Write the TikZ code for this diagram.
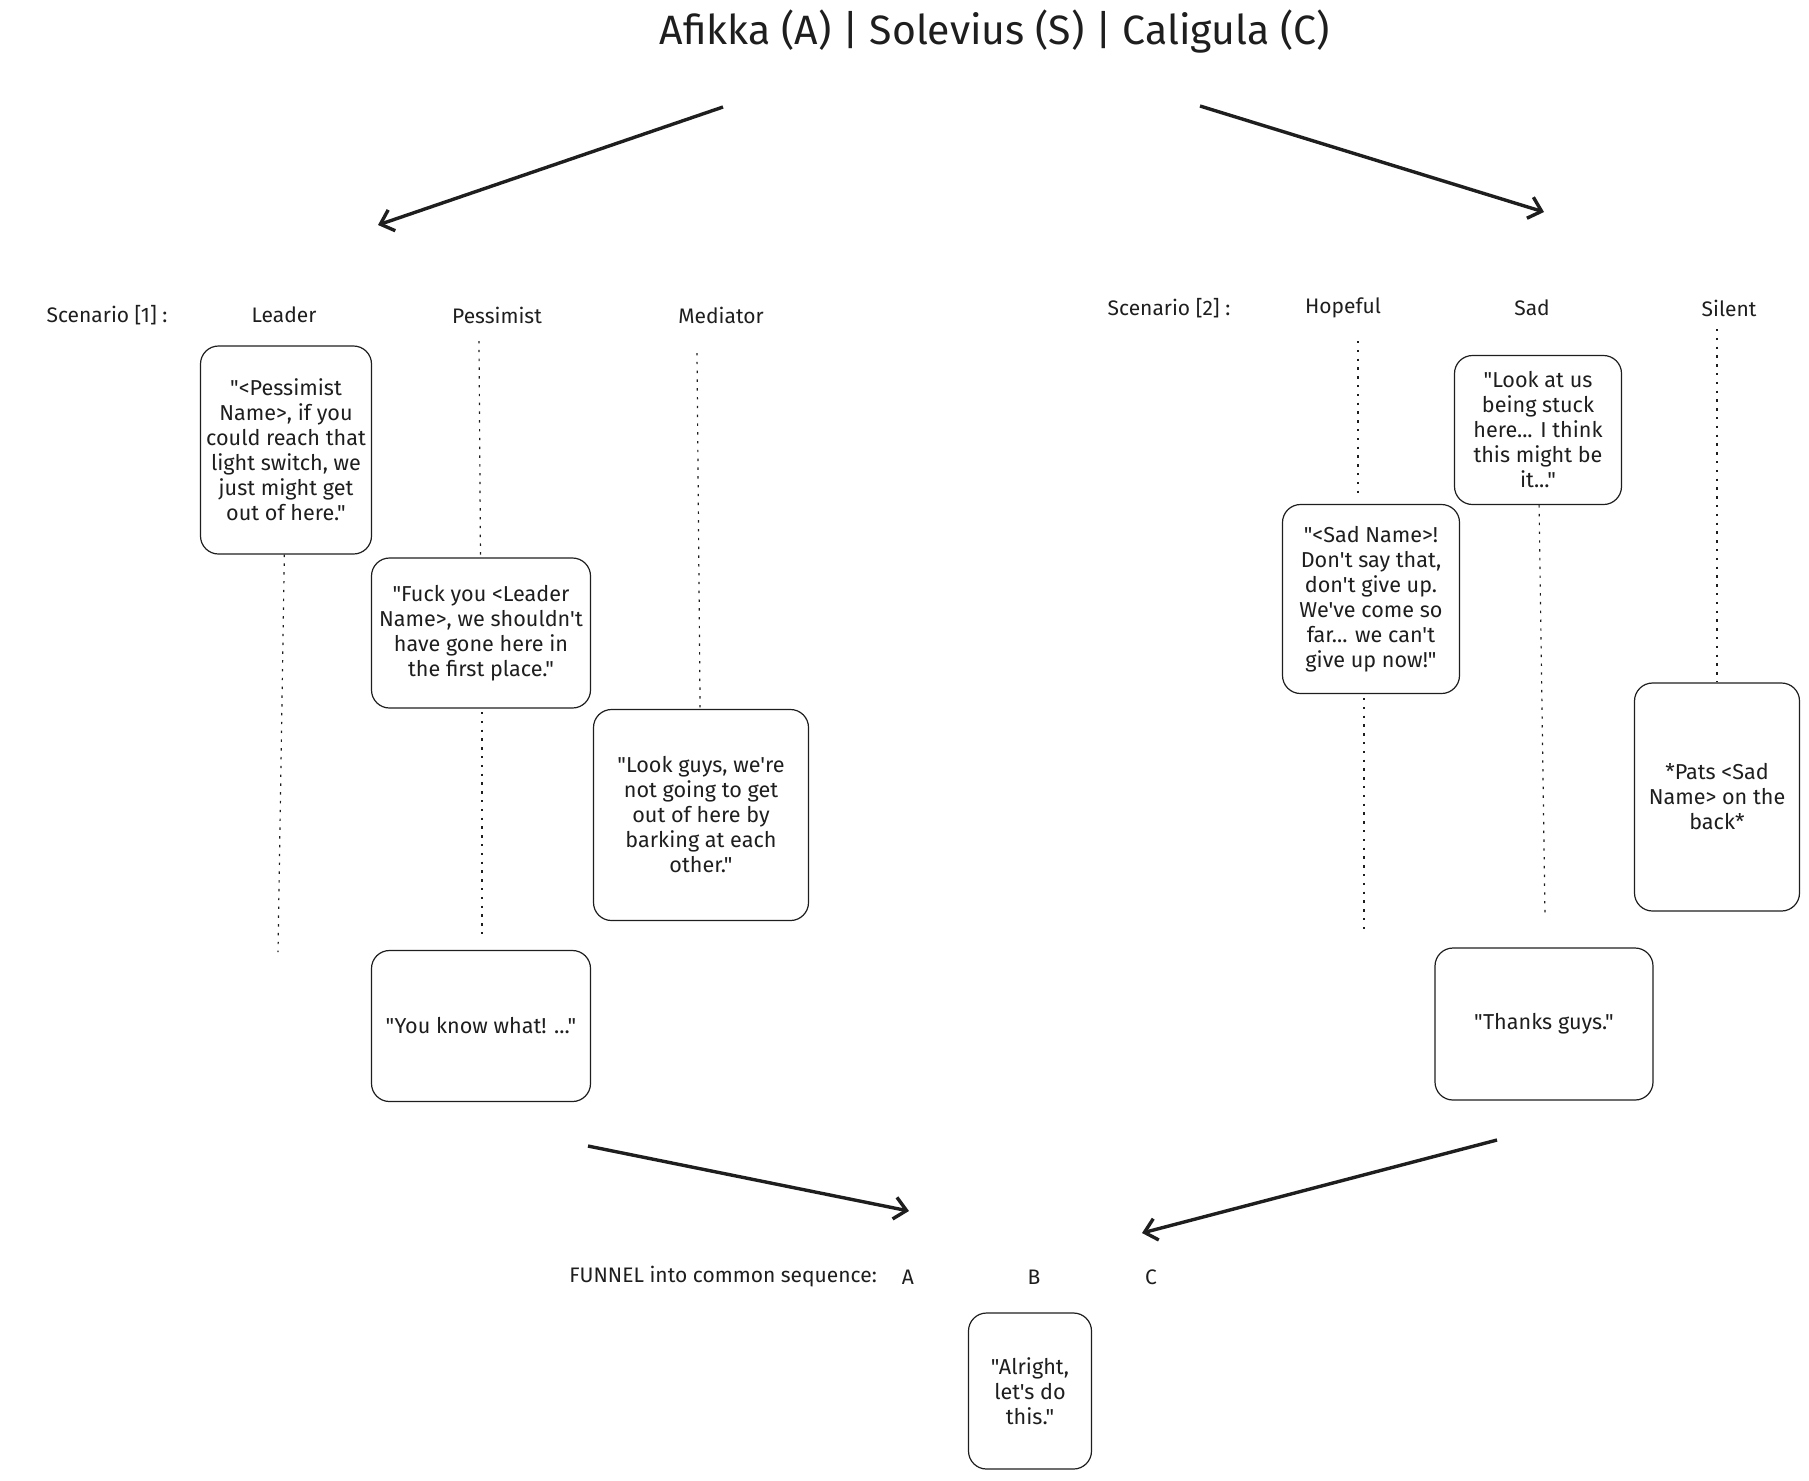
\documentclass[tikz,border=0pt]{standalone}
\usepackage{fontspec}
\setmainfont{Fira Sans}[Ligatures=TeXOff]
\usetikzlibrary{arrows.meta, positioning}
\definecolor{ink}{HTML}{1E1E1E}
\tikzset{%
  say/.style={draw=ink, text=ink, line width=0.6pt, rounded corners=9pt, align=center,
    inner sep=2pt, font=\fontsize{10.8}{12.5}\selectfont},
  role/.style={text=ink, font=\fontsize{10.5}{12}\selectfont},
  life/.style={ink, line width=0.6pt, dash pattern=on 1.2pt off 3.2pt},
  flow/.style={ink, line width=1.7pt, -{Straight Barb[length=6pt,width=11pt]}}
}

\begin{document}
\begin{tikzpicture}[x=0.5pt,y=-0.5pt]
  \useasboundingbox (0,0) rectangle (1809,1480);

  \node[text=ink, font=\fontsize{20.5}{24}\selectfont] (title) at (995,32) {Afikka (A) | Solevius (S) | Caligula (C)};

  % scenario 1
  \node[role] (sc1) at (107,315) {Scenario [1] :};
  \node[role] (leader) at (284,315) {Leader};
  \node[role] (pessimist) at (497,315) {Pessimist};
  \node[role] (mediator) at (721,315) {Mediator};

  \node[say, minimum width=85.5pt, minimum height=104pt] (lead) at (286,450)
    {"<Pessimist\\Name>, if you\\could reach that\\light switch, we\\just might get\\out of here."};
  \node[say, minimum width=109.5pt, minimum height=75pt] (pess1) at (481,633)
    {"Fuck you <Leader\\Name>, we shouldn't\\have gone here in\\the first place."};
  \node[say, minimum width=107.5pt, minimum height=105.5pt] (medi) at (701,815)
    {"Look guys, we're\\not going to get\\out of here by\\barking at each\\other."};
  \node[say, minimum width=109.5pt, minimum height=75.5pt] (pess2) at (481,1026)
    {"You know what! ..."};

  \coordinate (leadEnd) at (278,952);
  \coordinate (pessTop) at (479,341);
  \coordinate (pessMid) at (482,712);
  \coordinate (pessEnd) at (482,940);
  \coordinate (mediTop) at (697,353);
  \draw[life] (lead) -- (leadEnd);
  \draw[life] (pessTop) -- (pess1);
  \draw[life] (pessMid) -- (pessEnd);
  \draw[life] (mediTop) -- (medi);

  % scenario 2
  \node[role] (sc2) at (1169,308) {Scenario [2] :};
  \node[role] (hopeful) at (1343,308) {Hopeful};
  \node[role] (sadrole) at (1532,308) {Sad};
  \node[role] (silent) at (1729,308) {Silent};

  \node[say, minimum width=83.5pt, minimum height=74.5pt] (sad) at (1538,430)
    {"Look at us\\being stuck\\here... I think\\this might be\\it..."};
  \node[say, minimum width=88.5pt, minimum height=94.5pt] (hope) at (1371,599)
    {"<Sad Name>!\\Don't say that,\\don't give up.\\We've come so\\far... we can't\\give up now!"};
  \node[say, minimum width=82.5pt, minimum height=114pt] (sile) at (1717,797)
    {*Pats <Sad\\Name> on the\\back*};
  \node[say, minimum width=109pt, minimum height=76pt] (thanks) at (1544,1024)
    {"Thanks guys."};

  \coordinate (hopeTop) at (1358,341);
  \coordinate (hopeMid) at (1364,698);
  \coordinate (hopeEnd) at (1364,932);
  \coordinate (sadEnd) at (1545,917);
  \coordinate (sileTop) at (1717,329);
  \draw[life] (hopeTop) -- (1358,498);
  \draw[life] (hopeMid) -- (hopeEnd);
  \draw[life] (sad) -- (sadEnd);
  \draw[life] (sileTop) -- (sile);

  % funnel
  \node[role, anchor=west, inner xsep=0pt] (funnel) at (569,1277) {FUNNEL into common sequence:};
  \node[role] (seqA) at (908,1277) {A};
  \node[role] (seqB) at (1034,1277) {B};
  \node[role] (seqC) at (1151,1277) {C};
  \node[say, minimum width=61.5pt, minimum height=78pt] (alright) at (1030,1391)
    {"Alright,\\let's do\\this."};

  % arrows
  \coordinate (splitL) at (723,107);
  \coordinate (toS1) at (378,225);
  \coordinate (splitR) at (1200,106);
  \coordinate (toS2) at (1544,212);
  \coordinate (fromS1) at (588,1146);
  \coordinate (joinL) at (909,1211);
  \coordinate (fromS2) at (1497,1140);
  \coordinate (joinR) at (1142,1233);
  \draw[flow] (splitL) -- (toS1);
  \draw[flow] (splitR) -- (toS2);
  \draw[flow] (fromS1) -- (joinL);
  \draw[flow] (fromS2) -- (joinR);
\end{tikzpicture}
\end{document}
